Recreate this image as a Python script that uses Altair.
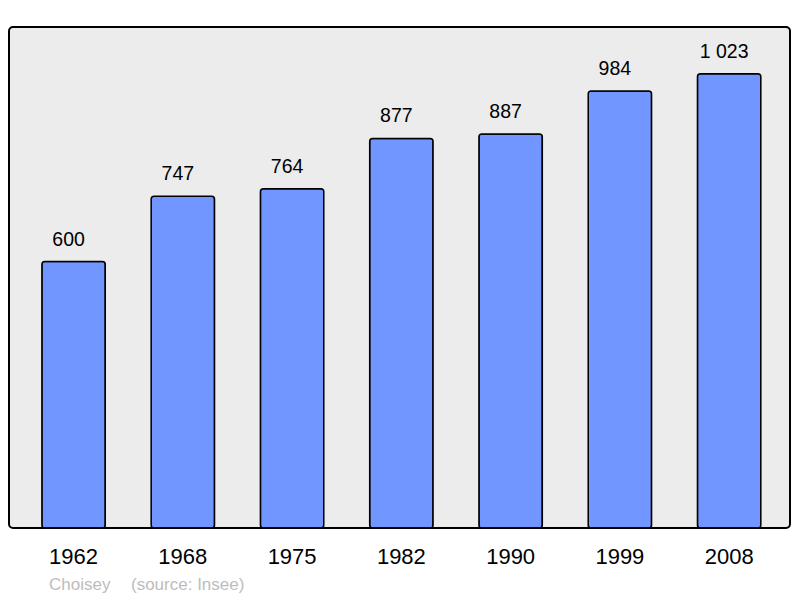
import altair as alt
import pandas as pd

years = ["1962", "1968", "1975", "1982", "1990", "1999", "2008"]
population = [600, 747, 764, 877, 887, 984, 1023]
labels = ["600", "747", "764", "877", "887", "984", "1 023"]
footer_texts = ["Choisey", "(source: Insee)"]
footer_x = [40, 122]

df = pd.DataFrame({"year": years, "pop": population, "label": labels})
fdf = pd.DataFrame({"t": footer_texts, "fx": footer_x})

x = alt.X("year:N", sort=years, title=None,
          scale=alt.Scale(paddingInner=0.42, paddingOuter=0.284, align=0.53),
          axis=alt.Axis(labelAngle=0, domain=False, ticks=False, labelFontSize=22,
                        labelFont="Liberation Sans", labelColor="black", labelPadding=18))
y = alt.Y("pop:Q", title=None, scale=alt.Scale(domain=[0, 1128], nice=False),
          axis=None)

bars = alt.Chart(df).mark_bar(fill="#7196ff", stroke="black", strokeWidth=1.5,
                              cornerRadius=3).encode(x=x, y=y)
text = alt.Chart(df).mark_text(baseline="bottom", dy=-12, dx=-5, fontSize=19.5,
                               font="Liberation Sans", color="black").encode(
    x=x, y=y, text="label:N")
footer = alt.Chart(fdf).mark_text(align="left", baseline="alphabetic", fontSize=17,
                                  font="Liberation Sans", color="#bdbdbd").encode(
    x=alt.X("fx:Q", scale=None), y=alt.value(563), text="t:N")

chart = alt.layer(bars, text, footer).properties(
    width=781, height=501,
    padding={"left": 1, "top": 19, "right": 1, "bottom": 70},
    autosize=alt.AutoSizeParams(type="none"),
).configure_view(fill="#ececec", stroke="black", strokeWidth=2, cornerRadius=4)

chart.save("out.html", embed_options={"renderer": "svg", "actions": False})
